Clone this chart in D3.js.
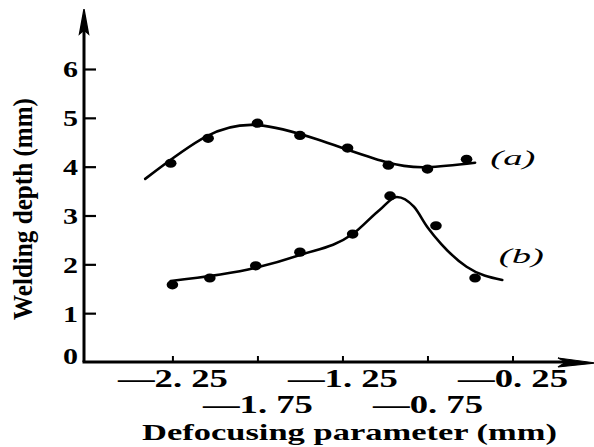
<!DOCTYPE html>
<html>
<head>
<meta charset="utf-8">
<script src="https://cdn.jsdelivr.net/npm/d3@7"></script>
<style>
  html, body { margin: 0; padding: 0; background: #fff; }
  svg { display: block; }
  text { font-family: "Liberation Serif", "Times New Roman", serif; fill: #000; }
</style>
</head>
<body>
<svg id="chart" width="594" height="447"></svg>
<script>
// Measured welding depth (mm) against defocusing parameter (mm)
const pointsAX = [-2.26, -2.04, -1.75, -1.50, -1.22, -0.98, -0.75, -0.52];
const pointsAY = [4.07, 4.58, 4.89, 4.64, 4.38, 4.03, 3.95, 4.15];
const pointsBX = [-2.25, -2.03, -1.76, -1.50, -1.19, -0.97, -0.70, -0.47];
const pointsBY = [1.58, 1.72, 1.97, 2.25, 2.62, 3.40, 2.79, 1.72];

// Hand-fitted trend curves through each series
const curveAX = [-2.41, -2.05, -1.75, -1.40, -1.00, -0.75, -0.47];
const curveAY = [3.75, 4.62, 4.85, 4.56, 4.10, 3.99, 4.08];
const curveBX = [-2.26, -1.76, -1.50, -1.19, -1.03, -0.93, -0.83, -0.75, -0.67, -0.52, -0.31];
const curveBY = [1.66, 1.93, 2.19, 2.62, 3.12, 3.38, 3.18, 2.76, 2.42, 1.95, 1.68];

const seriesLabels = ["(a)", "(b)"];
const xTicks = [-2.25, -1.75, -1.25, -0.75, -0.25];
const xTickLabels = ["\u20142. 25", "\u20141. 75", "\u20141. 25", "\u20140. 75", "\u20140. 25"];
const yTicks = [0, 1, 2, 3, 4, 5, 6];
const xTitle = "Defocusing parameter (mm)";
const yTitle = "Welding depth (mm)";

const svg = d3.select("#chart");

const x = d3.scaleLinear().domain([-2.77, 0.2]).range([84, 589]);
const y = d3.scaleLinear().domain([0, 6]).range([362, 69]);

const x0 = x.range()[0];
const y0 = y(0);

// Y axis: ticks point to the right, labels on the left
const yAxis = d3.axisLeft(y)
  .tickValues(yTicks)
  .tickSizeInner(-12)
  .tickSizeOuter(0)
  .tickPadding(6)
  .tickFormat(d3.format("d"));
const gy = svg.append("g").attr("transform", `translate(${x0},0)`).call(yAxis);
gy.select(".domain").remove();
gy.selectAll(".tick line").attr("stroke", "#000").attr("stroke-width", 2.2);
gy.selectAll(".tick text")
  .attr("font-size", 24)
  .attr("font-weight", "bold")
  .attr("textLength", 15)
  .attr("lengthAdjust", "spacingAndGlyphs")
  .attr("dy", "0.33em")
  .attr("fill", "#000");
gy.selectAll(".tick").filter(d => d === 0).select("line").remove();
gy.selectAll(".tick").filter(d => d === 0).select("text").attr("dy", "0.05em");

// X axis: short ticks above the line, labels in two staggered rows
const xAxis = d3.axisBottom(x)
  .tickValues(xTicks)
  .tickSizeInner(-6)
  .tickSizeOuter(0)
  .tickPadding(0)
  .tickFormat((d, i) => xTickLabels[i]);
const gx = svg.append("g").attr("transform", `translate(0,${y0})`).call(xAxis);
gx.select(".domain").remove();
gx.selectAll(".tick line").attr("stroke", "#000").attr("stroke-width", 2);
gx.selectAll(".tick text")
  .attr("font-size", 26)
  .attr("font-weight", "bold")
  .attr("textLength", 110)
  .attr("lengthAdjust", "spacingAndGlyphs")
  .attr("dy", null)
  .attr("y", (d, i) => i % 2 === 0 ? 25 : 51)
  .attr("fill", "#000");

// Axis lines with arrowheads
const axisG = svg.append("g");
axisG.append("line")
  .attr("x1", x0).attr("y1", y0).attr("x2", x0).attr("y2", 30)
  .attr("stroke", "#000").attr("stroke-width", 3);
axisG.append("path")
  .attr("d", `M${x0},9 L${x0 + 4.5},34 L${x0},30 L${x0 - 4.5},34 Z`)
  .attr("fill", "#000").attr("stroke", "#000").attr("stroke-width", 1.4);
axisG.append("line")
  .attr("x1", x0 - 1.5).attr("y1", y0).attr("x2", 575).attr("y2", y0)
  .attr("stroke", "#000").attr("stroke-width", 3);
axisG.append("path")
  .attr("d", `M596,${y0 + 1} L558,${y0 + 5} L566,${y0} L558,${y0 - 4} Z`)
  .attr("fill", "#000").attr("stroke", "#000").attr("stroke-width", 1.2);

// Trend curves: a smooth natural spline for (a), a peaked monotone fit for (b)
const lineA = d3.line()
  .x(d => x(d[0]))
  .y(d => y(d[1]))
  .curve(d3.curveNatural);
const lineB = d3.line()
  .x(d => x(d[0]))
  .y(d => y(d[1]))
  .curve(d3.curveMonotoneX);

const curveG = svg.append("g")
  .attr("fill", "none")
  .attr("stroke", "#000")
  .attr("stroke-width", 2.6)
  .attr("stroke-linecap", "round");
curveG.append("path").attr("d", lineA(d3.zip(curveAX, curveAY)));
curveG.append("path").attr("d", lineB(d3.zip(curveBX, curveBY)));

// Measured points
const pts = d3.zip(pointsAX, pointsAY).concat(d3.zip(pointsBX, pointsBY));
svg.append("g").selectAll("ellipse")
  .data(pts)
  .join("ellipse")
  .attr("cx", d => x(d[0]))
  .attr("cy", d => y(d[1]))
  .attr("rx", 5.8)
  .attr("ry", 4.6)
  .attr("fill", "#000");

// Series labels beside the curves
const labelPos = [[-0.38, 4.03], [-0.33, 2.03]];
svg.append("g").selectAll("text")
  .data(seriesLabels)
  .join("text")
  .attr("x", (d, i) => x(labelPos[i][0]))
  .attr("y", (d, i) => y(labelPos[i][1]))
  .attr("font-size", 21)
  .attr("font-style", "italic")
  .attr("textLength", 45)
  .attr("lengthAdjust", "spacingAndGlyphs")
  .text(d => d);

// Axis titles
svg.append("text")
  .attr("x", 142)
  .attr("y", 440)
  .attr("font-size", 23)
  .attr("font-weight", "bold")
  .attr("textLength", 415)
  .attr("lengthAdjust", "spacingAndGlyphs")
  .text(xTitle);

svg.append("text")
  .attr("transform", "translate(32,320) rotate(-90)")
  .attr("x", 0)
  .attr("y", 0)
  .attr("font-size", 28)
  .attr("font-weight", "bold")
  .attr("textLength", 222)
  .attr("lengthAdjust", "spacingAndGlyphs")
  .text(yTitle);
</script>
</body>
</html>
